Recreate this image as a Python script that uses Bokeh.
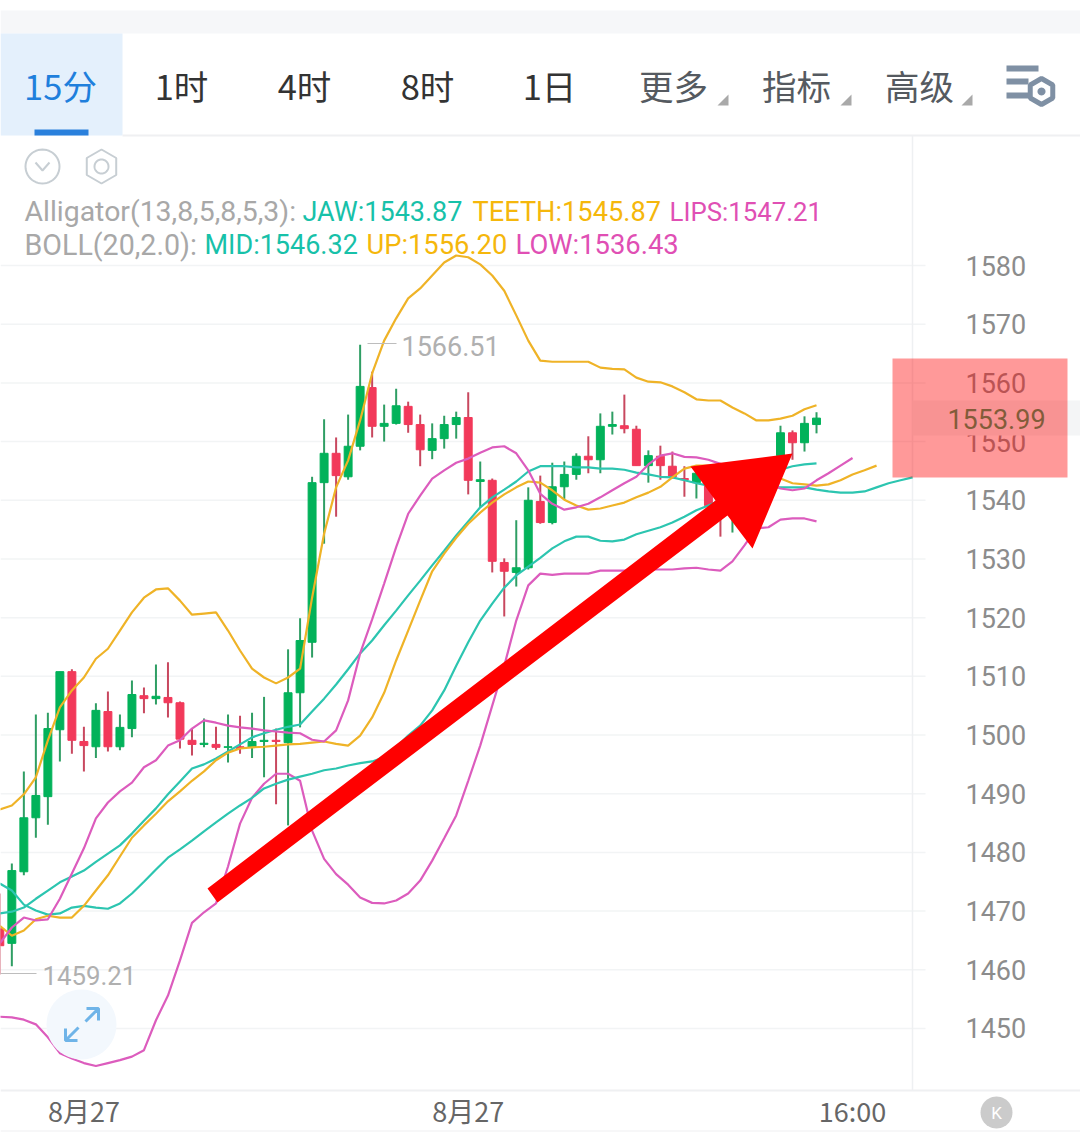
import numpy as np
from bokeh.plotting import figure
from bokeh.embed import file_html
from bokeh.resources import INLINE
from bokeh.models import BoxAnnotation, PolyAnnotation, Label, FixedTicker, ColumnDataSource, Range1d

# ---------- data ----------
opens = [1467.0,1464.5,1476.7,1485.9,1489.5,1500.9,1510.8,1498.9,1498.0,1504.0,1498.0,1501.1,1506.7,1506.2,1506.4,1505.5,1499.1,1498.4,1498.4,1497.9,
1498.0,1497.9,1498.9,1499.1,1498.7,1507.2,1515.8,1543.0,1548.0,1544.0,1549.2,1559.2,1552.6,1553.1,1556.0,1552.9,1548.5,1550.5,1552.9,1554.1,
1543.2,1543.4,1529.4,1527.7,1528.5,1539.8,1536.2,1542.3,1544.4,1547.5,1546.9,1552.6,1552.7,1552.1,1545.9,1547.5,1545.8,1543.7,1543.0,1542.5,
1541.7,1540.0,1543.4,1540.8,1542.5,1547.6,1551.5,1549.8,1552.9]
closes = [1464.1,1476.9,1485.9,1489.7,1501.1,1510.8,1499.1,1498.2,1504.2,1498.0,1501.3,1506.9,1506.2,1506.6,1505.5,1499.3,1498.4,1498.6,1497.9,1498.0,
1497.7,1498.9,1499.1,1498.9,1507.2,1516.1,1543.0,1548.0,1544.2,1549.2,1559.4,1552.6,1553.1,1556.1,1552.9,1548.6,1550.5,1552.9,1554.1,1543.4,
1543.5,1529.6,1527.9,1528.5,1540.0,1536.2,1542.3,1544.4,1547.5,1546.9,1552.6,1552.9,1552.2,1545.9,1547.6,1545.9,1544.0,1543.5,1544.6,1539.1,
1539.1,1541.7,1540.0,1544.2,1545.9,1551.5,1549.8,1553.1,1554.0]
highs = [1473.0,1478.1,1493.8,1503.5,1503.8,1510.8,1511.2,1501.4,1505.4,1507.4,1503.5,1509.3,1508.1,1512.0,1512.4,1505.7,1501.1,1502.8,1501.4,1503.5,
1503.3,1503.8,1506.5,1501.1,1514.6,1519.9,1544.0,1553.8,1550.7,1554.6,1566.5,1561.9,1556.3,1559.0,1556.8,1554.6,1553.1,1554.4,1555.1,1558.4,
1546.6,1543.7,1530.1,1536.6,1542.2,1544.2,1546.4,1546.6,1548.0,1550.9,1554.8,1555.1,1558.0,1552.7,1548.5,1549.3,1548.3,1545.8,1545.9,1543.4,
1542.5,1542.5,1544.2,1545.1,1546.8,1552.7,1551.9,1554.3,1555.0]
lows = [1459.2,1460.6,1476.1,1482.5,1484.7,1495.5,1496.8,1493.8,1496.1,1497.2,1497.4,1499.6,1503.7,1505.2,1503.0,1497.7,1496.5,1497.9,1497.5,1495.3,
1496.8,1496.1,1492.8,1488.2,1484.6,1501.3,1513.2,1532.6,1537.2,1543.5,1548.5,1550.7,1550.0,1552.9,1551.5,1545.8,1547.0,1548.8,1550.5,1541.0,
1538.8,1527.7,1520.2,1525.3,1528.2,1536.0,1535.9,1540.1,1543.5,1544.6,1544.6,1551.2,1551.4,1545.9,1543.0,1543.5,1543.7,1540.6,1540.3,1538.3,
1533.8,1534.5,1539.1,1540.0,1540.8,1546.4,1546.9,1548.3,1551.4]

boll_up = [1487.3,1488.0,1489.9,1492.8,1499.1,1504.7,1507.6,1509.8,1513.0,1514.7,1517.8,1520.9,1523.4,1524.8,1525.0,1522.9,1520.5,1520.7,1520.9,1517.8,
1514.4,1511.3,1509.8,1508.8,1509.8,1511.3,1523.4,1534.3,1542.2,1546.8,1553.6,1561.6,1567.2,1571.0,1574.4,1576.1,1578.3,1580.5,1581.7,1581.4,
1580.2,1578.3,1575.7,1571.5,1567.2,1563.8,1563.6,1563.6,1563.6,1563.6,1562.6,1562.4,1562.3,1560.9,1560.2,1560.1,1559.4,1558.4,1557.2,1557.0,
1557.0,1555.8,1554.8,1553.6,1553.6,1553.9,1554.4,1555.5,1556.2]
boll_low = [1452.0,1451.9,1451.5,1450.7,1448.5,1445.8,1444.9,1444.1,1443.6,1444.1,1444.6,1445.2,1446.3,1451.4,1455.6,1461.6,1468.0,1469.8,1471.3,1477.6,
1484.9,1489.3,1491.7,1493.4,1493.4,1492.2,1483.7,1478.9,1476.3,1474.5,1472.3,1471.4,1471.3,1471.8,1473.0,1475.2,1478.6,1482.4,1486.3,1492.2,
1498.2,1505.0,1511.8,1519.5,1525.5,1527.5,1527.3,1527.5,1527.5,1527.5,1528.0,1528.0,1528.0,1528.0,1528.2,1528.2,1528.2,1528.4,1528.5,1528.2,
1528.0,1529.6,1532.3,1535.2,1535.4,1536.7,1536.9,1536.9,1536.4]
boll_mid = [1469.6,1469.9,1470.6,1472.1,1473.5,1474.9,1475.9,1476.9,1478.4,1479.8,1481.2,1483.2,1485.4,1487.5,1489.9,1492.1,1494.3,1495.0,1496.0,1497.2,
1498.4,1499.6,1500.3,1500.9,1501.4,1501.8,1504.0,1506.2,1508.6,1511.2,1513.9,1516.1,1518.7,1521.2,1523.8,1526.3,1528.9,1531.4,1534.0,1536.4,
1538.8,1540.5,1541.8,1543.2,1544.9,1545.8,1545.8,1545.8,1545.6,1545.6,1545.4,1545.4,1545.2,1544.7,1544.4,1544.0,1543.9,1543.4,1542.9,1542.5,
1542.3,1542.7,1543.4,1544.0,1544.7,1545.2,1545.8,1546.1,1546.3]
jaw = [1474.7,1473.5,1471.1,1470.1,1469.4,1469.6,1470.6,1470.9,1470.6,1470.4,1471.3,1473.0,1475.0,1477.1,1479.1,1480.5,1482.0,1483.6,1485.1,1486.6,
1488.0,1489.3,1490.9,1491.7,1492.4,1492.9,1493.4,1494.0,1494.3,1494.8,1495.2,1495.5,1496.2,1497.9,1499.9,1501.6,1504.2,1507.6,1511.8,1515.8,
1519.5,1522.4,1525.1,1527.2,1528.7,1530.2,1531.8,1533.0,1533.8,1533.8,1533.1,1533.0,1533.3,1534.2,1534.8,1535.4,1536.2,1537.2,1538.3,1539.1,
1540.0,1540.6,1541.3,1541.8,1542.2,1542.2,1542.2,1542.2,1541.8,1541.5,1541.3,1541.3,1541.5,1542.2,1542.9,1543.4,1543.9]
teeth = [1467.5,1465.8,1466.7,1468.6,1469.2,1468.9,1468.9,1470.9,1473.5,1476.1,1479.3,1482.5,1484.6,1486.6,1488.7,1490.4,1492.2,1493.8,1495.7,1497.0,
1497.7,1497.9,1498.0,1498.2,1498.4,1498.5,1498.7,1498.9,1498.5,1498.2,1499.9,1503.0,1507.2,1512.7,1517.8,1522.9,1527.9,1530.9,1533.6,1536.0,
1537.9,1539.6,1541.0,1542.2,1543.2,1543.0,1541.7,1540.1,1539.1,1538.4,1538.6,1539.1,1539.6,1540.5,1541.3,1542.3,1543.9,1545.4,1545.9,1545.9,
1545.8,1545.4,1544.9,1544.6,1544.0,1543.7,1542.9,1542.7,1542.5,1542.7,1543.4,1544.4,1545.1,1545.9]
lips = [1464.5,1467.2,1468.9,1468.4,1468.6,1472.1,1476.4,1480.7,1485.8,1488.5,1490.4,1491.9,1494.5,1495.7,1498.2,1499.1,1501.1,1502.5,1502.1,1501.6,
1501.3,1501.1,1500.8,1500.6,1500.4,1500.3,1499.2,1498.9,1500.8,1505.9,1513.9,1519.7,1525.8,1532.0,1537.7,1540.8,1543.7,1545.1,1546.4,1547.1,
1548.1,1549.0,1549.2,1548.0,1545.1,1541.1,1539.4,1538.4,1538.8,1539.4,1540.5,1541.7,1542.9,1544.0,1546.1,1547.6,1548.0,1547.4,1547.3,1546.9,
1546.2,1545.4,1544.6,1543.7,1542.9,1542.0,1541.7,1542.0,1543.4,1544.6,1545.9,1547.2]

price_ticks = [1450,1460,1470,1480,1490,1500,1510,1520,1530,1540,1550,1560,1570,1580]
time_ticks = [7, 39, 71]
time_labels = ["8月27", "8月27", "16:00"]
tabs = ["1时", "4时", "8时", "1日", "更多", "指标", "高级"]
alligator = ["Alligator(13,8,5,8,5,3):", "JAW:1543.87", "TEETH:1545.87", "LIPS:1547.21"]
boll = ["BOLL(20,2.0):", "MID:1546.32", "UP:1556.20", "LOW:1536.43"]
last_price = "1553.99"
max_label = "1566.51"
min_label = "1459.21"

# ---------- page geometry: reference pixel -> data, for chrome only ----------
W, H = 1080, 1138
def X(px): return (px + 0.67) / 12.01
def Y(py): return 1580 - (py - 265) / 5.869

TEAL, GOLD, PINK = "#2cc5b0", "#efb327", "#dc5cbd"
GREEN, RED = "#02b25a", "#f2395a"
FONT = "Roboto"
CJK = "Noto Sans CJK SC"

p = figure(width=W, height=H, output_backend="svg", toolbar_location=None,
           x_range=Range1d(X(0), X(W)), y_range=Range1d(Y(H), Y(0)),
           min_border=0, y_axis_location="right",
           background_fill_color="white", border_fill_color="white")
p.outline_line_color = None
p.grid.visible = False

# axes
ya = p.yaxis[0]
ya.fixed_location = X(953)
ya.ticker = FixedTicker(ticks=price_ticks)
ya.axis_line_color = None
ya.major_tick_line_color = None
ya.minor_tick_line_color = None
ya.major_label_standoff = 6
ya.major_label_text_font = FONT
ya.major_label_text_font_size = "27px"
ya.major_label_text_color = "#8c8c8c"

xa = p.xaxis[0]
xa.fixed_location = Y(1079)
xa.ticker = FixedTicker(ticks=time_ticks)
xa.major_label_overrides = dict(zip(time_ticks, time_labels))
xa.axis_line_color = None
xa.major_tick_line_color = None
xa.minor_tick_line_color = None
xa.major_label_standoff = 5
xa.major_label_text_font = CJK
xa.major_label_text_font_size = "27px"
xa.major_label_text_color = "#666666"

# grid
p.segment(x0=X(0), x1=X(925), y0=price_ticks, y1=price_ticks, line_color="#f2f4f5", line_width=1.5)
p.segment(x0=[X(912)], x1=[X(912)], y0=[Y(135)], y1=[Y(1090)], line_color="#eef0f2", line_width=1.5)

# candles
idx = np.arange(len(opens))
o, c, h, l = map(np.array, (opens, closes, highs, lows))
up = c >= o
for mask, col, wick in ((up, GREEN, "#2f9e64"), (~up, RED, "#c8485f")):
    src = ColumnDataSource(dict(x=idx[mask], top=np.maximum(o, c)[mask], bottom=np.minimum(o, c)[mask], h=h[mask], l=l[mask]))
    p.segment("x", "h", "x", "l", source=src, line_color=wick, line_width=2)
    p.vbar("x", 0.66, "bottom", "top", source=src, fill_color=col, line_color=col, line_width=1)

# indicators
for vals, col in ((boll_low, PINK), (boll_mid, TEAL), (boll_up, GOLD), (jaw, TEAL), (teeth, GOLD), (lips, PINK)):
    p.line(np.arange(len(vals)), vals, line_color=col, line_width=2.2)

# ---------- chrome helpers ----------
def box(x0, y0, x1, y1, color, alpha=1.0):
    p.add_layout(BoxAnnotation(left=X(x0), right=X(x1), top=Y(y0), bottom=Y(y1), fill_color=color,
                               fill_alpha=alpha, line_color=None))
def poly(pts, fill=None, line=None, lw=2, alpha=1.0):
    p.add_layout(PolyAnnotation(xs=[X(a) for a, b in pts], ys=[Y(b) for a, b in pts],
                                fill_color=fill, fill_alpha=alpha if fill else 0,
                                line_color=line, line_width=lw, line_alpha=1 if line else 0))
def ngon(cx, cy, r, n=48, rot=0.0):
    t = np.linspace(0, 2 * np.pi, n, endpoint=False) + rot
    return [(cx + r * np.cos(a), cy + r * np.sin(a)) for a in t]
def txt(px, py, s, color, size, font=FONT, align="left"):
    p.add_layout(Label(x=X(px), y=Y(py), text=s, text_color=color, text_font=font, text_font_size=f"{size}px",
                       text_align=align, text_baseline="middle"))

# header
box(0, 10, W, 33, "#f6f7f9")
box(0, 33, 122, 135, "#e4f0fc")
box(34, 129, 88, 135, "#2a80dc")
box(122, 134, W, 136, "#eff0f2")
box(0, 1089, W, 1091, "#eff0f2")
box(0, 1130, W, 1131, "#eff0f2")
txt(60, 84, "15分", "#1f7fdc", 34.5, CJK, "center")
for s, cx, col in zip(tabs, [181, 304, 427, 549, 673, 796, 919],
                      ["#333333"] * 4 + ["#555a60"] * 3):
    txt(cx, 84, s, col, 34.5, CJK, "center")
for tx in (717, 840, 961):
    poly([(tx + 11, 94), (tx + 11, 105), (tx, 105)], fill="#a9a9a9")

# settings icon
for y0, x1 in ((65, 1038), (78, 1028), (92, 1028)):
    box(1006, y0, x1, y0 + 6, "#7f90a4")
poly(ngon(1041, 91, 13, 6, np.pi / 6), fill="white", line="#7f90a4", lw=5)
poly(ngon(1041, 91, 4, 24), fill="#7f90a4")

# small icons
poly(ngon(42, 166, 17), line="#c7ced3", lw=2)
poly([(35, 162), (42, 170), (49, 162), (42, 170)], line="#c7ced3", lw=2)
poly(ngon(101, 166, 17, 6, np.pi / 6), line="#c7ced3", lw=2)
poly(ngon(101, 166, 7), line="#c7ced3", lw=2)

# legend
LEG = ["#a8a8a8", "#17c1a9", "#f5b70c", "#e04fb4"]
for s, px, col, sz in zip(alligator, [24, 302, 472, 669], LEG, [28.4, 27, 27.2, 25.8]):
    txt(px, 211, s, col, sz)
for s, px, col, sz in zip(boll, [24, 204, 366, 515], LEG, [28.6, 27, 27.3, 27.4]):
    txt(px, 244, s, col, sz)

# extremes
poly([(367, 343), (396, 343)], line="#bdbdbd", lw=1)
txt(401, 345, max_label, "#b0b0b0", 27)
poly([(0, 973), (36, 973)], line="#bdbdbd", lw=1)
txt(42, 975, min_label, "#b0b0b0", 25.8)

# expand button
poly(ngon(81, 1024, 35), fill="#f3f8fd")
poly([(65, 1040), (78, 1027), (65, 1040), (65, 1028), (65, 1040), (77, 1040)], line="#6fb4e8", lw=3)
poly([(98, 1008), (85, 1021), (98, 1008), (86, 1008), (98, 1008), (98, 1020)], line="#6fb4e8", lw=3)

# bottom-right button
poly(ngon(996, 1112, 16), fill="#cbcbcb")
txt(996, 1112, "K", "white", 17, FONT, "center")

# price tag + highlight
box(912, 400, W, 435, "#f4f5f6")
txt(996, 418, last_price, "#2f9a62", 27, FONT, "center")
box(892, 358, 1067, 477, "#ff0000", 0.4)

# arrow
poly([(207, 888), (715, 500), (690, 466), (792, 453), (752, 548), (727, 515), (217, 902)], fill="#ff0000")

open("out.html", "w").write(file_html(p, INLINE))
